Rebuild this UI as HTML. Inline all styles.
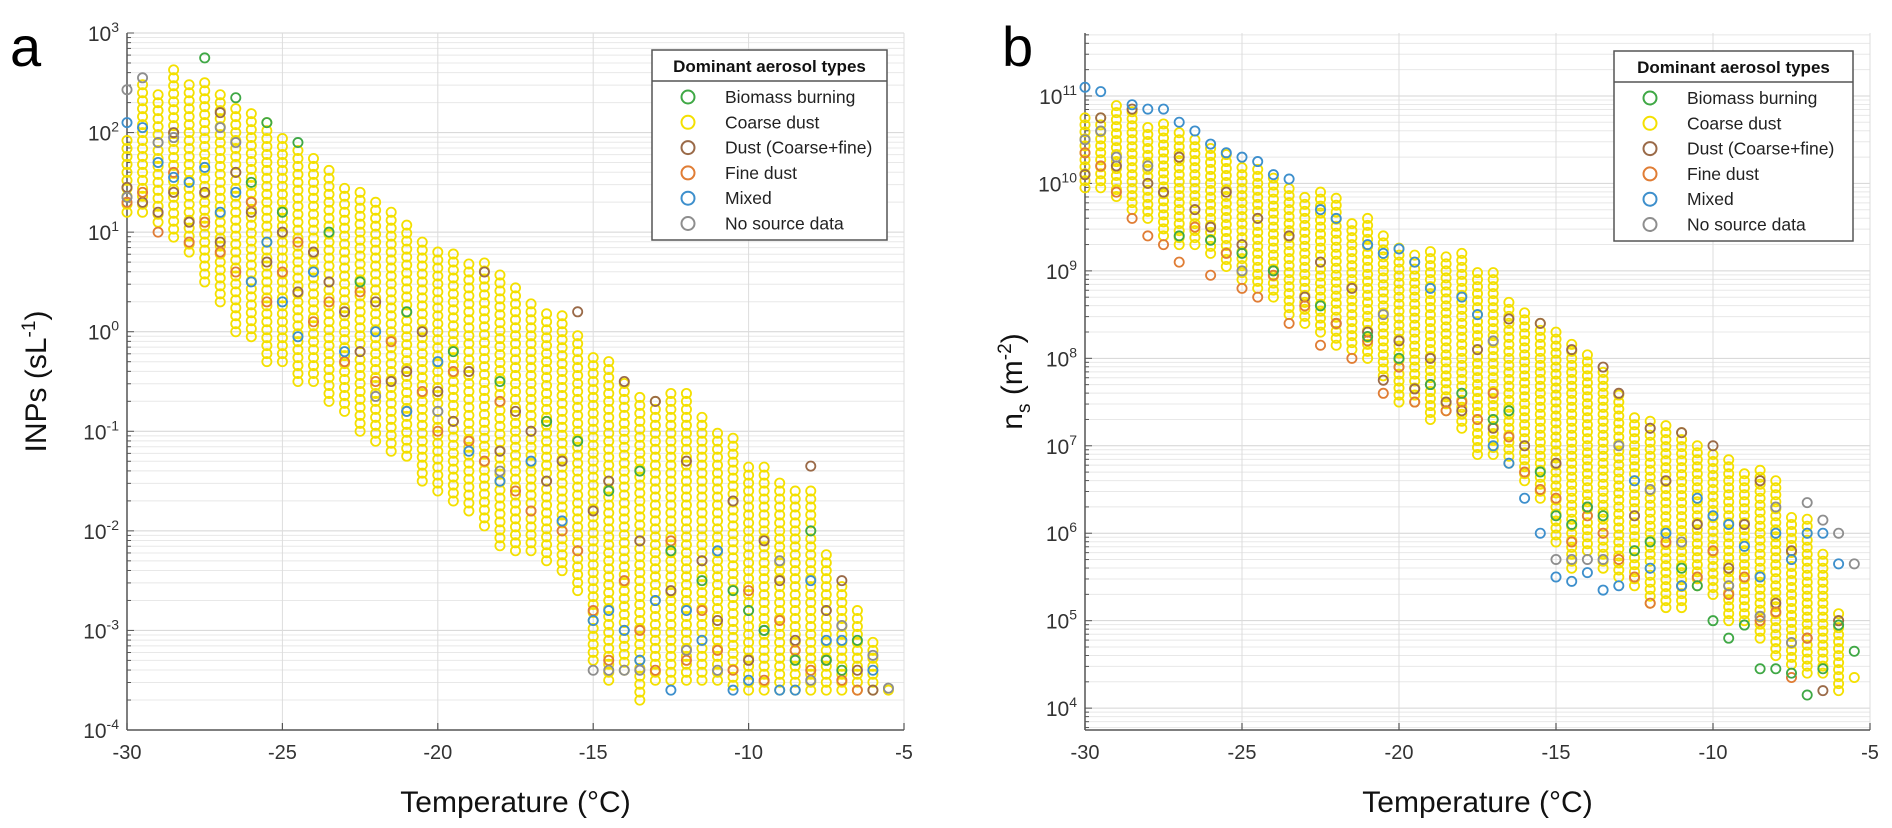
<!DOCTYPE html>
<html><head><meta charset="utf-8"><style>
html,body{margin:0;padding:0;background:#fff;}
svg{display:block;font-family:"Liberation Sans",Arial,sans-serif;}
</style></head><body>
<svg id="fig" width="1892" height="828" viewBox="0 0 1892 828" xmlns="http://www.w3.org/2000/svg"></svg>
<script>
// ---- data (T in °C, values as log10) ----
const temps = [-30,-29.5,-29,-28.5,-28,-27.5,-27,-26.5,-26,-25.5,-25,-24.5,-24,-23.5,-23,-22.5,-22,-21.5,-21,-20.5,-20,-19.5,-19,-18.5,-18,-17.5,-17,-16.5,-16,-15.5,-15,-14.5,-14,-13.5,-13,-12.5,-12,-11.5,-11,-10.5,-10,-9.5,-9,-8.5,-8,-7.5,-7,-6.5,-6,-5.5];
const aCoarseHi = [1.95,2.5,2.4,2.65,2.55,2.5,2.45,2.3,2.2,2.1,2.0,1.85,1.8,1.65,1.5,1.4,1.3,1.2,1.1,0.95,0.8,0.8,0.75,0.7,0.6,0.5,0.35,0.25,0.2,0.0,-0.2,-0.3,-0.45,-0.6,-0.7,-0.55,-0.6,-0.8,-1.0,-1.0,-1.3,-1.3,-1.5,-1.6,-1.6,-2.2,-2.5,-2.8,-3.1,-3.55];
const aCoarseLo = [1.2,1.2,1.1,0.95,0.8,0.5,0.3,0.0,-0.05,-0.3,-0.3,-0.5,-0.5,-0.7,-0.8,-1.0,-1.1,-1.2,-1.25,-1.5,-1.6,-1.7,-1.8,-1.95,-2.15,-2.2,-2.2,-2.3,-2.4,-2.6,-3.3,-3.5,-3.4,-3.7,-3.5,-3.5,-3.5,-3.5,-3.5,-3.55,-3.6,-3.6,-3.6,-3.6,-3.6,-3.6,-3.6,-3.6,-3.6,-3.6];
const bCoarseHi = [10.8,10.75,10.95,10.85,10.7,10.7,10.6,10.5,10.45,10.35,10.25,10.2,10.1,10.0,9.9,9.95,9.85,9.6,9.6,9.45,9.3,9.25,9.25,9.2,9.2,9.05,9.05,8.7,8.55,8.4,8.3,8.2,8.05,7.9,7.65,7.35,7.35,7.3,7.2,7.0,6.9,6.9,6.75,6.75,6.6,6.2,6.2,5.8,5.15,4.4];
const bCoarseLo = [9.95,9.95,9.85,9.7,9.6,9.4,9.3,9.3,9.2,9.05,8.9,8.8,8.7,8.5,8.4,8.3,8.15,8.1,8.0,7.8,7.5,7.5,7.3,7.4,7.2,6.9,6.9,6.8,6.6,6.4,5.9,5.6,5.8,5.6,5.5,5.4,5.2,5.15,5.15,5.4,5.3,5.0,5.0,4.8,4.6,4.5,4.4,4.4,4.2,4.35];

const aBrown = [[-30,1.45],[-29.5,1.3],[-29,1.2],[-28.5,1.4],[-28.5,2.0],[-28,1.1],[-27.5,1.4],[-27,2.2],[-27,0.9],[-26.5,1.6],[-26,1.2],[-25.5,0.7],[-25,1.0],[-24.5,0.4],[-24,0.8],[-23.5,0.5],[-23,0.2],[-22.5,-0.2],[-22,0.3],[-21.5,-0.5],[-21,-0.4],[-20.5,0.0],[-20,-0.6],[-19.5,-0.9],[-19,-0.4],[-18.5,0.6],[-18,-1.2],[-17.5,-0.8],[-17,-1.0],[-16.5,-1.5],[-16,-1.3],[-15.5,0.2],[-15,-1.8],[-14.5,-1.5],[-14,-0.5],[-13.5,-2.1],[-13,-0.7],[-12.5,-2.6],[-12,-1.3],[-11.5,-2.3],[-11,-2.9],[-10.5,-1.7],[-10,-3.3],[-9.5,-2.1],[-9,-2.5],[-8.5,-3.1],[-8,-1.35],[-7.5,-2.8],[-7,-2.5],[-6.5,-3.4],[-6,-3.6]];
const aFine = [[-30,1.3],[-29.5,1.4],[-29,1.0],[-28.5,1.6],[-28,0.9],[-27.5,1.1],[-27,0.8],[-26.5,0.6],[-26,1.3],[-25.5,0.3],[-25,0.6],[-24.5,0.9],[-24,0.1],[-23.5,0.3],[-23,-0.3],[-22.5,0.4],[-22,-0.5],[-21.5,-0.1],[-21,-0.8],[-20.5,-0.6],[-20,-1.0],[-19.5,-0.4],[-19,-1.1],[-18.5,-1.3],[-18,-0.7],[-17.5,-1.6],[-17,-1.8],[-16.5,-0.9],[-16,-2.0],[-15.5,-2.2],[-15,-2.8],[-14.5,-3.3],[-14,-2.5],[-13.5,-3.0],[-13,-3.4],[-12.5,-2.1],[-12,-3.3],[-11.5,-2.8],[-11,-3.2],[-10.5,-3.4],[-10,-2.6],[-9.5,-3.5],[-9,-2.9],[-8.5,-3.2],[-8,-3.4],[-7.5,-3.3],[-7,-3.5],[-6.5,-3.6]];
const aMixed = [[-30,2.1],[-29.5,2.05],[-29,1.7],[-28.5,1.55],[-28,1.5],[-27.5,1.65],[-27,1.2],[-26.5,1.4],[-26,0.5],[-25.5,0.9],[-25,0.3],[-24.5,-0.05],[-24,0.6],[-23,-0.2],[-22,0.0],[-21,-0.8],[-20,-0.3],[-19,-1.2],[-18,-1.5],[-17,-1.3],[-16,-1.9],[-15,-2.9],[-14.5,-2.8],[-14,-3.0],[-13.5,-3.3],[-13,-2.7],[-12.5,-3.6],[-12,-2.8],[-11.5,-3.1],[-11,-2.2],[-10.5,-3.6],[-10,-3.5],[-9.5,-3.0],[-9,-3.6],[-8.5,-3.6],[-8,-2.5],[-7.5,-3.1],[-7,-3.1],[-6,-3.4]];
const aBiomass = [[-27.5,2.75],[-26.5,2.35],[-25.5,2.1],[-24.5,1.9],[-26,1.5],[-25,1.2],[-23.5,1.0],[-22.5,0.5],[-21,0.2],[-19.5,-0.2],[-18,-0.5],[-16.5,-0.9],[-15.5,-1.1],[-14.5,-1.6],[-13.5,-1.4],[-12.5,-2.2],[-11.5,-2.5],[-10.5,-2.6],[-10,-2.8],[-9.5,-3.0],[-8.5,-3.3],[-8,-2.0],[-7.5,-3.3],[-7,-3.4],[-6.5,-3.1]];
const aNoSource = [[-30,2.43],[-30,1.35],[-29.5,2.55],[-29,1.9],[-28.5,1.95],[-27,2.05],[-26.5,1.9],[-22,-0.65],[-20,-0.8],[-18,-1.4],[-15,-3.4],[-14.5,-3.4],[-14,-3.4],[-13.5,-3.4],[-12,-3.2],[-11,-3.4],[-9,-2.3],[-8,-3.5],[-7,-2.95],[-6,-3.25],[-5.5,-3.58]];

const bBrown = [[-30,10.1],[-29.5,10.75],[-29,10.2],[-28.5,10.85],[-28,10.0],[-27.5,9.9],[-27,10.3],[-26.5,9.7],[-26,9.5],[-25.5,9.9],[-25,9.3],[-24.5,9.6],[-24,9.0],[-23.5,9.4],[-23,8.7],[-22.5,9.1],[-22,8.4],[-21.5,8.8],[-21,8.3],[-20.5,7.75],[-20,8.2],[-19.5,7.65],[-19,8.0],[-18.5,7.5],[-18,7.4],[-17.5,8.1],[-17,7.2],[-16.5,8.45],[-16,7.0],[-15.5,8.4],[-15,6.8],[-14.5,8.1],[-14,6.3],[-13.5,7.9],[-13,7.6],[-12.5,6.2],[-12,7.2],[-11.5,6.6],[-11,7.15],[-10.5,6.1],[-10,7.0],[-9.5,5.6],[-9,6.1],[-8.5,6.6],[-8,5.2],[-7.5,5.8],[-7,4.8],[-6.5,4.2],[-6,5.0]];
const bFine = [[-30,10.35],[-29.5,10.2],[-29,9.9],[-28.5,9.6],[-28,9.4],[-27.5,9.3],[-27,9.1],[-26.5,9.5],[-26,8.95],[-25.5,9.2],[-25,8.8],[-24.5,8.7],[-24,8.95],[-23.5,8.4],[-23,8.6],[-22.5,8.15],[-22,8.4],[-21.5,8.0],[-21,8.2],[-20.5,7.6],[-20,7.9],[-19.5,7.5],[-19,7.7],[-18.5,7.4],[-18,7.5],[-17.5,7.3],[-17,7.6],[-16.5,7.1],[-16,6.7],[-15.5,6.5],[-15,6.4],[-14.5,5.9],[-14,6.2],[-13.5,6.0],[-13,5.7],[-12.5,5.5],[-12,5.2],[-11.5,5.9],[-11,5.4],[-10.5,5.5],[-10,5.8],[-9.5,5.3],[-9,5.5],[-8.5,5.0],[-8,5.1],[-7.5,4.35],[-7,4.8]];
const bMixed = [[-30,11.1],[-29.5,11.05],[-28.5,10.9],[-28,10.85],[-27.5,10.85],[-27,10.7],[-26.5,10.6],[-26,10.45],[-25.5,10.35],[-25,10.3],[-24.5,10.25],[-24,10.1],[-23.5,10.05],[-22.5,9.7],[-22,9.6],[-21,9.3],[-20.5,9.2],[-20,9.25],[-19.5,9.1],[-19,8.8],[-18,8.7],[-17.5,8.5],[-17,7.0],[-16.5,6.8],[-16,6.4],[-15.5,6.0],[-15,5.5],[-14.5,5.45],[-14,5.55],[-13.5,5.35],[-13,5.4],[-12.5,6.6],[-12,5.6],[-11.5,6.0],[-11,5.4],[-10.5,6.4],[-10,6.2],[-9.5,6.1],[-9,5.85],[-8.5,5.5],[-8,6.0],[-7.5,5.7],[-7,6.0],[-6.5,6.0],[-6,5.65]];
const bBiomass = [[-27,9.4],[-26,9.35],[-25,9.2],[-24,9.0],[-22.5,8.6],[-21,8.25],[-20,8.0],[-19,7.7],[-18,7.6],[-17,7.3],[-16.5,7.4],[-15.5,6.7],[-15,6.2],[-14.5,6.1],[-14,6.3],[-13.5,6.2],[-12.5,5.8],[-12,5.9],[-11,5.6],[-10.5,5.4],[-10,5.0],[-9.5,4.8],[-9,4.95],[-8.5,4.45],[-8,4.45],[-7.5,4.4],[-7,4.15],[-6.5,4.45],[-6,4.95],[-5.5,4.65]];
const bNoSource = [[-30,10.5],[-29.5,10.6],[-29,10.3],[-28,10.2],[-25,9.0],[-20.5,8.5],[-17,8.2],[-15,5.7],[-14.5,5.7],[-14,5.7],[-13.5,5.7],[-13,7.0],[-12,6.5],[-11,5.9],[-9.5,5.4],[-8.5,5.05],[-8,6.3],[-7.5,4.75],[-7,6.35],[-6.5,6.15],[-6,6.0],[-5.5,5.65]];

const xTicks = [-30,-25,-20,-15,-10,-5];
const aYTicks = [-4,-3,-2,-1,0,1,2,3];
const bYTicks = [4,5,6,7,8,9,10,11];
const legendLabels = ["Biomass burning","Coarse dust","Dust (Coarse+fine)","Fine dust","Mixed","No source data"];

const COL = {bio:"#3fa845",coarse:"#f4e000",brown:"#9a6a48",fine:"#e07d35",mixed:"#3d8fcc",none:"#8e8e8e"};
const NS = "http://www.w3.org/2000/svg";
const svg = document.getElementById('fig');
function mk(tag, attrs, parent){const e=document.createElementNS(NS,tag);for(const k in attrs)e.setAttribute(k,attrs[k]);(parent||svg).appendChild(e);return e;}

function panel(cfg){
  const g = mk('g',{});
  
  
  const X = t => cfg.x0 + (t - (-30)) / 25 * (cfg.x1 - cfg.x0);
  const Y = v => cfg.y1 - (v - cfg.ymin) / (cfg.ymax - cfg.ymin) * (cfg.y1 - cfg.y0);
  const grid = mk('g',{},g);
  
  
  for (let d=Math.floor(cfg.ymin); d<=Math.ceil(cfg.ymax); d++){
    for (let m=1; m<=9; m++){
      const v = d + Math.log10(m);
      if (v<cfg.ymin||v>cfg.ymax) continue;
      mk('line',{x1:cfg.x0,x2:cfg.x1,y1:Y(v),y2:Y(v),stroke:m===1?"#d4d4d4":"#e8e8e8","stroke-width":1},grid);
    }
  }
  xTicks.forEach(t=>{ mk('line',{x1:X(t),x2:X(t),y1:cfg.y0,y2:cfg.y1,stroke:"#dcdcdc","stroke-width":1},grid); });
  const ax = mk('g',{},g);
  
  
  mk('line',{x1:cfg.x0,x2:cfg.x0,y1:cfg.y0,y2:cfg.y1,stroke:"#555","stroke-width":1.5},ax);
  mk('line',{x1:cfg.x0,x2:cfg.x1,y1:cfg.y1,y2:cfg.y1,stroke:"#555","stroke-width":1.5},ax);
  xTicks.forEach(t=>{
    mk('line',{x1:X(t),x2:X(t),y1:cfg.y1,y2:cfg.y1-7,stroke:"#555","stroke-width":1.2},ax);
    const tx = mk('text',{x:X(t),y:cfg.y1+29,"text-anchor":"middle","font-size":20,fill:"#333"},ax);
    tx.textContent = t;
    
    
  });
  for (let d=Math.floor(cfg.ymin); d<=Math.ceil(cfg.ymax); d++){
    for (let m=1; m<=9; m++){
      const v = d + Math.log10(m);
      if (v<cfg.ymin||v>cfg.ymax) continue;
      mk('line',{x1:cfg.x0,x2:cfg.x0+(m===1?7:4),y1:Y(v),y2:Y(v),stroke:"#555","stroke-width":1},ax);
    }
  }
  cfg.yTicks.forEach(v=>{
    const tx = mk('text',{x:cfg.x0-8,y:Y(v)+8,"text-anchor":"end","font-size":21,fill:"#333"},ax);
    
    
    const s1 = mk('tspan',{},tx); s1.textContent = "10";
    const s2 = mk('tspan',{dy:-9,"font-size":14},tx); s2.textContent = v;
  });
  const xt = mk('text',{x:(cfg.x0+cfg.x1)/2,y:cfg.y1+82,"text-anchor":"middle","font-size":30,fill:"#111"},g);
  xt.textContent = "Temperature (°C)";
  
  
  const yt = mk('text',{transform:`translate(${cfg.ylx},${(cfg.y0+cfg.y1)/2}) rotate(-90)`,"text-anchor":"middle","font-size":30,fill:"#111"},g);
  
  
  cfg.ylabel(yt);
  const pl = mk('text',{x:cfg.letterX,y:66,"font-size":56,fill:"#000"},g);
  pl.textContent = cfg.letter;
  
  
  const pts = mk('g',{fill:"none","stroke-width":1.8},g);
  
  
  const R = 4.6;
  const dot = (t,v,c,nm)=>{ const c1 = mk('circle',{cx:X(t),cy:Y(v),r:R,stroke:c},pts);
    
     };
  const STEP = 0.08;
  temps.forEach((t,i)=>{
    for (let v=cfg.lo[i]; v<=cfg.hi[i]+1e-9; v+=STEP) dot(t,v,COL.coarse,'point-coarse-dust');
  });
  cfg.series.forEach(s=>{ s.data.forEach(p=>dot(p[0],p[1],s.col,s.nm)); });
  const lg = mk('g',{},g);
  
  
  const L = cfg.leg;
  mk('rect',{x:L.x,y:L.y,width:L.w,height:L.h,fill:"#fff",stroke:"#555","stroke-width":1.5},lg);
  mk('line',{x1:L.x,x2:L.x+L.w,y1:L.y+31,y2:L.y+31,stroke:"#555","stroke-width":1.5},lg);
  const ht = mk('text',{x:L.x+L.w/2,y:L.y+22,"text-anchor":"middle","font-size":17,"font-weight":"bold",fill:"#111"},lg);
  ht.textContent = "Dominant aerosol types";
  
  
  const lc = [COL.bio,COL.coarse,COL.brown,COL.fine,COL.mixed,COL.none];
  legendLabels.forEach((lab,i)=>{
    const yy = L.y + 47 + i*25.3;
    const e = mk('g',{},lg);
    
    
    mk('circle',{cx:L.x+36,cy:yy,r:6.5,fill:"none",stroke:lc[i],"stroke-width":2},e);
    const tt = mk('text',{x:L.x+73,y:yy+6,"font-size":17.5,fill:"#222"},e);
    tt.textContent = lab;
  });
}

panel({name:'panel-a-inps',letter:'a',letterX:10,x0:127,x1:904,y0:33,y1:730,ymin:-4,ymax:3,yTicks:aYTicks,ylx:46,
  lo:aCoarseLo,hi:aCoarseHi,
  series:[{data:aBrown,col:COL.brown,nm:'point-dust-coarse-fine'},{data:aFine,col:COL.fine,nm:'point-fine-dust'},{data:aMixed,col:COL.mixed,nm:'point-mixed'},{data:aBiomass,col:COL.bio,nm:'point-biomass-burning'},{data:aNoSource,col:COL.none,nm:'point-no-source-data'}],
  leg:{x:652,y:50,w:235,h:190},
  ylabel:(t)=>{const a=mk('tspan',{},t);a.textContent="INPs (sL";const b=mk('tspan',{dy:-11,"font-size":19},t);b.textContent="-1";const c=mk('tspan',{dy:11},t);c.textContent=")";}
});
panel({name:'panel-b-ns',letter:'b',letterX:1002,x0:1085,x1:1870,y0:33,y1:730,ymin:3.75,ymax:11.72,yTicks:bYTicks,ylx:1022,
  lo:bCoarseLo,hi:bCoarseHi,
  series:[{data:bBrown,col:COL.brown,nm:'point-dust-coarse-fine'},{data:bFine,col:COL.fine,nm:'point-fine-dust'},{data:bMixed,col:COL.mixed,nm:'point-mixed'},{data:bBiomass,col:COL.bio,nm:'point-biomass-burning'},{data:bNoSource,col:COL.none,nm:'point-no-source-data'}],
  leg:{x:1614,y:51,w:239,h:190},
  ylabel:(t)=>{const a=mk('tspan',{},t);a.textContent="n";const b=mk('tspan',{dy:8,"font-size":19},t);b.textContent="s";const c=mk('tspan',{dy:-8},t);c.textContent=" (m";const d=mk('tspan',{dy:-11,"font-size":19},t);d.textContent="-2";const e=mk('tspan',{dy:11},t);e.textContent=")";}
});
</script>
</body></html>
